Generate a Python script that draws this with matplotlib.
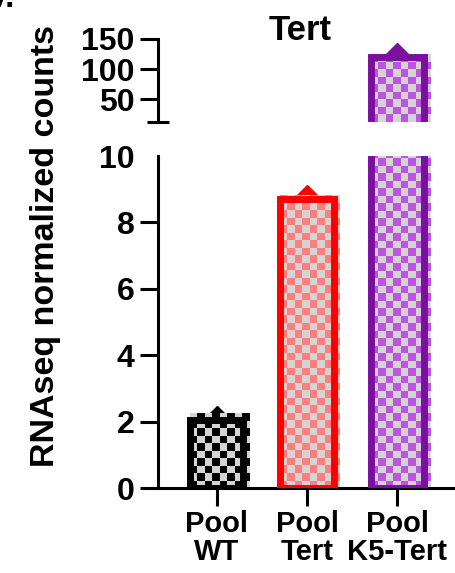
import numpy as np
import matplotlib
matplotlib.use("Agg")
import matplotlib.pyplot as plt
from matplotlib.colors import ListedColormap

plt.rcParams['font.family'] = ['Liberation Sans', 'DejaVu Sans']
plt.rcParams['font.weight'] = 'bold'

groups = ['Pool\nWT', 'Pool\nTert', 'Pool\nK5-Tert']
counts = [2.05, 8.7, 120.0]
edge_colors = ['#000000', '#ff0000', '#7a0fa0']
cell_colors = ['#000000', '#ff7f7f', '#bb55dd']
gray = '#d4d4d4'

W, H = 456, 573
fig = plt.figure(figsize=(W / 100, H / 100), dpi=100)

left = 158 / W
width = 1 - left
ax_lo = fig.add_axes([left, 1 - 488 / H, width, (488 - 156) / H])
ax_hi = fig.add_axes([left, 1 - 122 / H, width, (122 - 39) / H])

x = np.arange(len(groups))
lw_spine = 2.2


def checker(ax, bar, c1, c2, cell=7.5):
    # checkerboard fill clipped to the bar, cells fixed in pixels
    y0, y1 = ax.get_ylim()
    bx, by = bar.get_x(), bar.get_y()
    bw, bh = bar.get_width(), bar.get_height()
    ybot = max(by, y0)
    ytop = min(by + bh, y1)
    if ytop <= ybot:
        return
    p0 = ax.transData.transform((bx, ybot))
    p1 = ax.transData.transform((bx + bw, ytop))
    nx = int(np.ceil((p1[0] - p0[0]) / cell))
    ny = int(np.ceil((p1[1] - p0[1]) / cell))
    grid = np.add.outer(np.arange(ny), np.arange(nx)) % 2
    e1 = ax.transData.inverted().transform((p0[0] + nx * cell, p0[1] + ny * cell))
    ax.imshow(grid, cmap=ListedColormap([c1, c2]), extent=(bx, e1[0], ybot, e1[1]),
              origin='lower', interpolation='nearest', aspect='auto', zorder=2,
              clip_path=bar)


for ax, lims in [(ax_lo, (0, 10)), (ax_hi, (12, 150))]:
    ax.set_xlim(-0.65, 2.65)
    ax.set_ylim(*lims)
    ax.set_autoscale_on(False)
    for i in range(len(x)):
        if counts[i] < lims[0]:
            continue  # bar does not reach this segment
        if counts[i] <= lims[1]:
            ax.plot(x[i], counts[i], linestyle='none', marker='D', ms=14,
                    color=edge_colors[i], zorder=1, clip_on=False)
        b = ax.bar(x[i], counts[i], width=0.59, color='none',
                   edgecolor=edge_colors[i], linewidth=5, zorder=3)[0]
        checker(ax, b, cell_colors[i], gray)
    for s in ['top', 'right']:
        ax.spines[s].set_visible(False)
    ax.spines['left'].set_linewidth(lw_spine)
    ax.spines['bottom'].set_linewidth(lw_spine)
    ax.tick_params(axis='both', which='major', length=13, width=lw_spine,
                   direction='out', labelsize=23, pad=4)
    ax.tick_params(axis='y', which='minor', length=16, width=lw_spine,
                   direction='inout')

ax_lo.set_yticks([0, 2, 4, 6, 8, 10])
ax_lo.set_yticks([10], minor=True)
ax_lo.yaxis.get_major_ticks()[-1].tick1line.set_visible(False)
ax_lo.set_xticks(x)
ax_lo.set_xticklabels(groups, fontsize=21, linespacing=1.0)
ax_lo.tick_params(axis='x', pad=3)

ax_hi.set_yticks([50, 100, 150])
ax_hi.set_yticks([12], minor=True)
ax_hi.spines['bottom'].set_visible(False)
ax_hi.set_xticks([])

fig.text(300 / W, 1 - 40 / H, 'Tert', ha='center', va='baseline', fontsize=25)
fig.text(46 / W, 1 - 246 / H, 'RNAseq normalized counts', rotation=90,
         ha='center', va='center', fontsize=24.5)
fig.text(15 / W, 1 - 7 / H, 'V.', ha='right', va='baseline', fontsize=24)

fig.savefig('out.png', dpi=100)
